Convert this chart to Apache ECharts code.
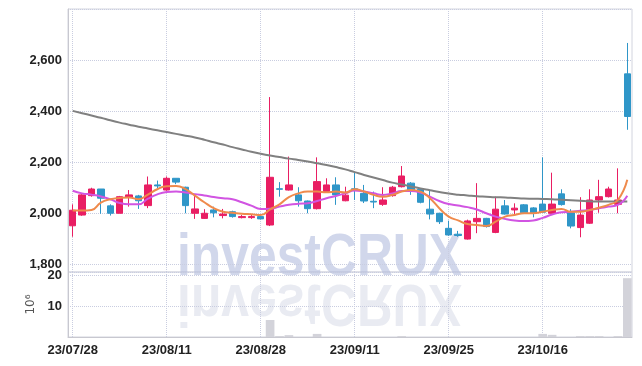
<!DOCTYPE html>
<html>
<head>
<meta charset="utf-8">
<script src="https://cdn.jsdelivr.net/npm/echarts@6/dist/echarts.min.js"></script>
<style>
  html, body { margin: 0; padding: 0; background: #fff; }
  #chart { width: 642px; height: 366px; }
</style>
</head>
<body>
<div id="chart"></div>
<script>
// trading days
var dates = [
  '23/07/28','23/07/31','23/08/01','23/08/02','23/08/03','23/08/04','23/08/07','23/08/08','23/08/09','23/08/10',
  '23/08/11','23/08/14','23/08/16','23/08/17','23/08/18','23/08/21','23/08/22','23/08/23','23/08/24','23/08/25',
  '23/08/28','23/08/29','23/08/30','23/08/31','23/09/01','23/09/04','23/09/05','23/09/06','23/09/07','23/09/08',
  '23/09/11','23/09/12','23/09/13','23/09/14','23/09/15','23/09/18','23/09/19','23/09/20','23/09/21','23/09/22',
  '23/09/25','23/09/26','23/09/27','23/10/04','23/10/05','23/10/06','23/10/10','23/10/11','23/10/12','23/10/13',
  '23/10/16','23/10/17','23/10/18','23/10/19','23/10/20','23/10/23','23/10/24','23/10/25','23/10/26','23/10/27'
];

// [open, close, low, high]
var ohlc = [
  [1951,2012,1908,2035],[1993,2072,1990,2075],[2069,2095,2065,2100],[2095,2059,1998,2095],[2029,2000,1991,2035],
  [2000,2065,2000,2068],[2063,2072,2026,2091],[2068,2049,2017,2072],[2030,2111,2020,2144],[2111,2107,2098,2128],
  [2091,2137,2088,2144],[2137,2122,2114,2137],[2102,2030,2000,2104],[2000,2017,1978,2069],[1980,2000,1978,2016],
  [2013,2002,1984,2026],[1991,1997,1980,2017],[2006,1987,1983,2010],[1983,1987,1980,1993],[1983,1987,1978,1997],
  [1987,1978,1976,1990],[1954,2141,1950,2455],[2096,2094,2065,2122],[2091,2111,2089,2222],[2072,2049,2026,2102],
  [2048,2018,2000,2050],[2018,2124,2015,2219],[2085,2111,2080,2137],[2111,2072,2033,2141],[2049,2071,2047,2104],
  [2096,2090,2052,2159],[2078,2048,2040,2111],[2047,2044,2020,2085],[2035,2052,2029,2102],[2069,2102,2065,2107],
  [2104,2146,2101,2185],[2118,2087,2072,2122],[2094,2043,2039,2097],[2016,1997,1976,2091],[2000,1967,1958,2002],
  [1941,1915,1912,1971],[1918,1913,1908,1931],[1899,1970,1897,1975],[1967,1980,1922,2118],[1980,1948,1944,1982],
  [1925,2016,1922,2065],[2029,1997,1995,2052],[2013,2020,1996,2039],[2033,2002,1997,2036],[2021,2000,1984,2024],
  [2036,2004,2002,2219],[2000,2036,1997,2159],[2076,2034,2030,2094],[2002,1950,1941,2016],[1944,1993,1906,2063],
  [1961,2052,1958,2094],[2052,2065,2002,2131],[2065,2095,2062,2104],[2035,2052,2000,2176],[2546,2379,2327,2667]
];

var maShort = [
  2011,2011,2013,2042,2055,2060,2062,2055,2073,2094,
  2106,2107,2095,2069,2043,2020,2006,2002,1998,1996,
  1993,2015,2035,2063,2078,2085,2085,2082,2085,2081,
  2094,2085,2072,2065,2072,2085,2091,2085,2059,2020,
  1987,1972,1958,1954,1950,1967,1987,1993,2000,2000,
  2006,2013,2017,2006,2006,2013,2022,2033,2052,2131
];

var maMid = [
  2088,2078,2073,2066,2055,2040,2035,2035,2057,2074,
  2083,2085,2081,2075,2070,2064,2059,2055,2043,2030,
  2017,2018,2026,2033,2037,2039,2048,2059,2068,2078,
  2089,2085,2078,2072,2078,2087,2087,2081,2065,2048,
  2036,2030,2024,2015,2000,1987,1978,1972,1970,1972,
  1982,1995,2004,2006,2010,2013,2020,2026,2033,2069
];

var maLong = [
  2401,2392,2383,2374,2364,2355,2347,2339,2332,2325,
  2318,2311,2304,2297,2288,2278,2269,2259,2250,2241,
  2233,2226,2220,2214,2209,2203,2196,2189,2181,2172,
  2161,2150,2140,2130,2120,2113,2105,2097,2090,2083,
  2077,2073,2070,2067,2065,2063,2062,2060,2058,2057,
  2056,2055,2053,2051,2049,2047,2046,2046,2046,2046
];

// volume, 10^6
var volume = [
  0,0,0,0,0,0,0,0,0,0,
  0,0,0,0,0,0,0,0,0,0,
  0,5.5,0.3,0.6,0,0,1.0,0,0,0,
  0,0,0,0,0,0.3,0,0,0,0,
  0,0,0,0,0,0,0,0,0,0,
  1.0,0.7,0,0,0.3,0.3,0.3,0,0.3,19
];

var upColor = '#e91e63';
var downColor = '#2f96c8';
var labelFont = '"Liberation Sans", Arial, sans-serif';
var gridLine = { show: true, lineStyle: { color: '#c9cde0', type: 'dotted', width: 1 } };
var markFont = 'bold 60px "Liberation Sans", Arial, sans-serif';

var chart = echarts.init(document.getElementById('chart'), null, { renderer: 'canvas' });

var option = {
  animation: false,
  backgroundColor: '#fff',
  grid: [
    { left: 68, right: 10, top: 9, height: 263, show: true, borderColor: '#d2d4de', borderWidth: 1 },
    { left: 68, right: 10, top: 272, height: 65, show: true, borderColor: '#d2d4de', borderWidth: 1 }
  ],
  graphic: [
    {
      type: 'text', x: 177, y: 258, scaleX: 0.83, z: 0, silent: true,
      style: { text: 'investCRUX', font: markFont, fill: 'rgba(178,188,222,0.6)', verticalAlign: 'middle' }
    },
    {
      type: 'text', x: 177, y: 302, scaleX: 0.83, scaleY: -1, z: 0, silent: true,
      style: { text: 'investCRUX', font: markFont, fill: 'rgba(200,204,222,0.4)', verticalAlign: 'middle' }
    }
  ],
  xAxis: [
    {
      type: 'category', gridIndex: 0, data: dates, boundaryGap: true,
      axisLine: { show: false }, axisTick: { show: false }, axisLabel: { show: false },
      splitLine: { show: true, interval: 9, alignWithLabel: true, lineStyle: gridLine.lineStyle }
    },
    {
      type: 'category', gridIndex: 1, data: dates, boundaryGap: true,
      axisLine: { show: true, lineStyle: { color: '#c8c8d0' } },
      axisTick: { show: false },
      axisLabel: { interval: 9, margin: 7, color: '#222', fontFamily: labelFont, fontWeight: 'bold', fontSize: 13 },
      splitLine: { show: true, interval: 9, alignWithLabel: true, lineStyle: gridLine.lineStyle }
    }
  ],
  yAxis: [
    {
      type: 'value', gridIndex: 0, min: 1770, max: 2800, splitNumber: 5,
      axisLine: { show: true, lineStyle: { color: '#c8c8d0' } },
      axisTick: { show: false },
      axisLabel: {
        showMinLabel: false, showMaxLabel: false, margin: 6,
        color: '#222', fontFamily: labelFont, fontWeight: 'bold', fontSize: 13,
        formatter: function (v) { return v.toLocaleString('en-US'); }
      },
      splitLine: gridLine
    },
    {
      type: 'value', gridIndex: 1, min: 0, max: 21, interval: 10,
      name: '10\u2076', nameLocation: 'middle', nameRotate: 90, nameGap: 28,
      nameTextStyle: { color: '#555', fontFamily: 'DejaVu Sans', fontSize: 12 },
      axisLine: { show: true, lineStyle: { color: '#c8c8d0' } },
      axisTick: { show: false },
      axisLabel: {
        showMinLabel: false, showMaxLabel: false, margin: 6,
        color: '#222', fontFamily: labelFont, fontWeight: 'bold', fontSize: 13
      },
      splitLine: gridLine
    }
  ],
  series: [
    {
      type: 'candlestick', xAxisIndex: 0, yAxisIndex: 0, data: ohlc, barWidth: '74%',
      itemStyle: { color: upColor, color0: downColor, borderColor: upColor, borderColor0: downColor, borderWidth: 1 }
    },
    {
      type: 'line', xAxisIndex: 0, yAxisIndex: 0, data: maLong, smooth: true, symbol: 'none',
      lineStyle: { color: '#808080', width: 2 }, z: 3
    },
    {
      type: 'line', xAxisIndex: 0, yAxisIndex: 0, data: maMid, smooth: true, symbol: 'none',
      lineStyle: { color: '#d154e2', width: 2 }, z: 3
    },
    {
      type: 'line', xAxisIndex: 0, yAxisIndex: 0, data: maShort, smooth: true, symbol: 'none',
      lineStyle: { color: '#ef8a4c', width: 2 }, z: 3
    },
    {
      type: 'bar', xAxisIndex: 1, yAxisIndex: 1, data: volume, barWidth: '92%',
      itemStyle: { color: '#d3d3da' }
    }
  ]
};

chart.setOption(option);
</script>
</body>
</html>
